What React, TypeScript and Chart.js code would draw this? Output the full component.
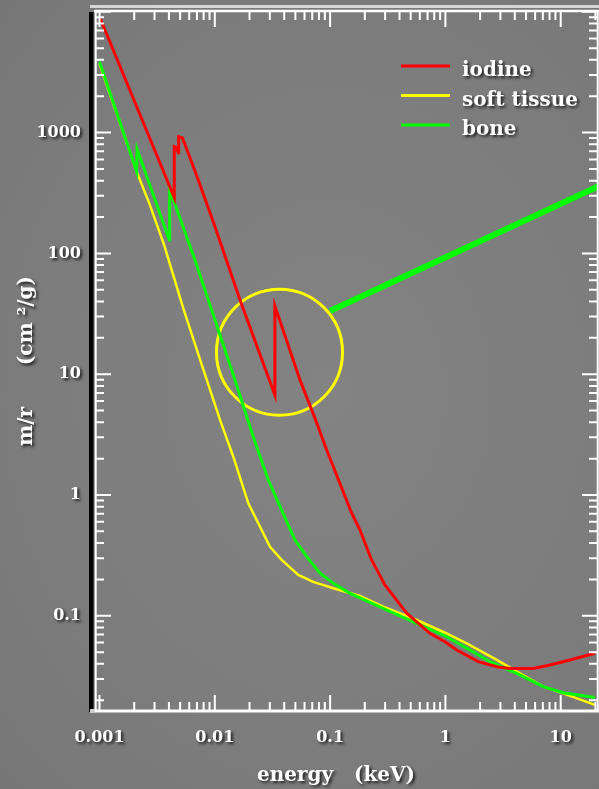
import React, { useEffect, useRef } from 'react';
import { Chart, registerables } from 'chart.js';

Chart.register(...registerables);

// ---- data (energy in the axis unit, mass attenuation coefficient) ----
const iodineEnergy = [0.001, 0.00445, 0.00445, 0.0047, 0.00483, 0.00486, 0.00523, 0.00589, 0.00719, 0.01004, 0.01655, 0.0332, 0.0332, 0.0548, 0.074, 0.0934, 0.154, 0.1816, 0.229, 0.299, 0.4613, 0.7345, 0.992, 1.253, 1.93, 2.79, 3.63, 5.79, 8.07, 12.04, 19.8];
const iodineMu = [9100, 290, 764, 745, 680, 925, 905, 674, 405, 166, 41.1, 6.73, 36.7, 8.95, 4.31, 2.36, 0.706, 0.513, 0.29, 0.18, 0.105, 0.0716, 0.061, 0.0521, 0.0417, 0.0379, 0.0367, 0.0367, 0.0391, 0.0431, 0.049];

const tissueEnergy = [0.001, 0.0021, 0.00274, 0.00365, 0.00533, 0.0077, 0.0111, 0.01447, 0.01953, 0.02384, 0.0301, 0.038, 0.053, 0.0715, 0.1066, 0.1816, 0.289, 0.564, 0.992, 1.53, 2.79, 4.15, 7.06, 10.5, 19.8];
const tissueMu = [3700, 475, 251, 116, 35, 12, 4.18, 2.075, 0.854, 0.583, 0.373, 0.29, 0.218, 0.191, 0.169, 0.146, 0.119, 0.0923, 0.0724, 0.0592, 0.0431, 0.0345, 0.0259, 0.0228, 0.0183];

const boneEnergy = [0.001, 0.0021, 0.00212, 0.00403, 0.00406, 0.00673, 0.01073, 0.01497, 0.02158, 0.0291, 0.038, 0.0496, 0.0627, 0.0817, 0.1066, 0.1488, 0.31, 0.564, 1.026, 1.633, 2.44, 4.15, 7.06, 10.5, 19.8];
const boneMu = [3864, 475, 727, 129, 339, 88.2, 23.2, 8.95, 3.02, 1.33, 0.751, 0.424, 0.309, 0.225, 0.186, 0.1535, 0.1117, 0.0867, 0.0671, 0.0521, 0.0417, 0.0334, 0.0259, 0.0231, 0.0211];

const seriesLabels = ['iodine', 'soft tissue', 'bone'];
const seriesColors = ['#ff0000', '#ffff00', '#00ff00'];

const xTickLabels = ['0.001', '0.01', '0.1', '1', '10'];
const yTickLabels = ['0.1', '1', '10', '100', '1000'];
const xRange = [0.000914, 21.06];
const yRange = [0.01629, 10153];

// highlight circle around the iodine K-edge and its pointer
const highlightEnergy = [0.0364];
const highlightMu = [15.2];
const pointerEnergy = [0.0998, 21.5];
const pointerMu = [33.4, 361];

const xTitle = 'energy   (keV)   ';
const yTitle = 'm/r      (cm \u00b2/g)';

const FONT = '"DejaVu Serif", "Liberation Serif", serif';

function setShadow(ctx: CanvasRenderingContext2D, on: boolean) {
  if (on) {
    ctx.shadowColor = 'rgba(0,0,0,0.75)';
    ctx.shadowBlur = 3;
    ctx.shadowOffsetX = 2;
    ctx.shadowOffsetY = 2;
  } else {
    ctx.shadowColor = 'rgba(0,0,0,0)';
    ctx.shadowBlur = 0;
    ctx.shadowOffsetX = 0;
    ctx.shadowOffsetY = 0;
  }
}

function logValues(min: number, max: number) {
  const out: { v: number; major: boolean }[] = [];
  const k0 = Math.floor(Math.log10(min));
  const k1 = Math.ceil(Math.log10(max));
  for (let k = k0; k <= k1; k++) {
    for (let d = 1; d <= 9; d++) {
      const v = d * Math.pow(10, k);
      if (v >= min && v <= max) out.push({ v, major: d === 1 });
    }
  }
  return out;
}

const framePlugin = {
  id: 'framePlugin',
  beforeDraw(chart: any) {
    setShadow(chart.ctx, true);
  },
  beforeDatasetsDraw(chart: any) {
    setShadow(chart.ctx, false);
  },
  afterDatasetsDraw(chart: any) {
    const ctx: CanvasRenderingContext2D = chart.ctx;
    const a = chart.chartArea;
    const xs = chart.scales.x;
    const ys = chart.scales.y;
    ctx.save();
    setShadow(ctx, false);
    // light bar above the frame
    ctx.fillStyle = '#d6d6d6';
    ctx.fillRect(a.left - 5, a.top - 6, a.right - a.left + 10, 3);
    // dark bar left of the frame
    ctx.fillStyle = '#000000';
    ctx.fillRect(a.left - 6, a.top + 1, 4.5, a.bottom - a.top);
    ctx.fillStyle = '#cfcfcf';
    ctx.fillRect(a.left - 5, a.bottom - 2, 5, 4);

    ctx.strokeStyle = '#ffffff';
    ctx.lineCap = 'butt';
    // frame
    ctx.lineWidth = 2.5;
    ctx.beginPath();
    ctx.moveTo(a.left - 1, a.top);
    ctx.lineTo(a.right + 2, a.top);
    ctx.stroke();
    ctx.lineWidth = 3;
    ctx.beginPath();
    ctx.moveTo(a.left, a.bottom);
    ctx.lineTo(a.right + 2, a.bottom);
    ctx.stroke();
    ctx.lineWidth = 2;
    ctx.beginPath();
    ctx.moveTo(a.left + 0.7, a.top);
    ctx.lineTo(a.left + 0.7, a.bottom);
    ctx.moveTo(a.right - 0.3, a.top);
    ctx.lineTo(a.right - 0.3, a.bottom);
    ctx.stroke();

    // ticks
    ctx.lineWidth = 2;
    ctx.beginPath();
    for (const t of logValues(xRange[0], xRange[1])) {
      const px = xs.getPixelForValue(t.v);
      const len = t.major ? 16 : 9;
      ctx.moveTo(px, a.bottom);
      ctx.lineTo(px, a.bottom - len);
      ctx.moveTo(px, a.top);
      ctx.lineTo(px, a.top + len);
    }
    for (const t of logValues(yRange[0], yRange[1])) {
      const py = ys.getPixelForValue(t.v);
      const len = t.major ? 16 : 9;
      ctx.moveTo(a.left, py);
      ctx.lineTo(a.left + len, py);
      ctx.moveTo(a.right, py);
      ctx.lineTo(a.right - len, py);
    }
    ctx.stroke();

    // legend
    const items = chart.data.datasets.slice(0, 3);
    items.forEach((ds: any, i: number) => {
      const ly = 66 + i * 29.5;
      setShadow(ctx, false);
      ctx.strokeStyle = ds.borderColor;
      ctx.lineWidth = 3;
      ctx.beginPath();
      ctx.moveTo(401, ly);
      ctx.lineTo(450, ly);
      ctx.stroke();
      setShadow(ctx, true);
      ctx.fillStyle = '#ffffff';
      ctx.font = `bold 20px ${FONT}`;
      ctx.textAlign = 'left';
      ctx.textBaseline = 'alphabetic';
      ctx.fillText(ds.label, 462, ly + 10);
    });
    ctx.restore();
  },
};

export default function App() {
  const ref = useRef<HTMLCanvasElement>(null);
  useEffect(() => {
    const canvas = ref.current;
    if (!canvas) return;
    const pts = (xs: number[], ys: number[]) => xs.map((x, i) => ({ x, y: ys[i] }));
    const tickFont = { family: FONT, size: 16, weight: 'bold' as const };
    const titleFont = { family: FONT, size: 20, weight: 'bold' as const };
    const chart = new Chart(canvas, {
      type: 'scatter',
      data: {
        datasets: [
          {
            label: seriesLabels[0],
            data: pts(iodineEnergy, iodineMu),
            borderColor: seriesColors[0],
            backgroundColor: seriesColors[0],
            borderWidth: 3,
            showLine: true,
            pointRadius: 0,
            borderJoinStyle: 'miter',
            order: 0,
          },
          {
            label: seriesLabels[1],
            data: pts(tissueEnergy, tissueMu),
            borderColor: seriesColors[1],
            backgroundColor: seriesColors[1],
            borderWidth: 2.5,
            showLine: true,
            pointRadius: 0,
            borderJoinStyle: 'miter',
            order: 2,
          },
          {
            label: seriesLabels[2],
            data: pts(boneEnergy, boneMu),
            borderColor: seriesColors[2],
            backgroundColor: seriesColors[2],
            borderWidth: 3,
            showLine: true,
            pointRadius: 0,
            borderJoinStyle: 'miter',
            order: 1,
          },
          {
            label: 'pointer',
            data: pts(pointerEnergy, pointerMu),
            borderColor: seriesColors[2],
            backgroundColor: seriesColors[2],
            borderWidth: 6,
            showLine: true,
            pointRadius: 0,
            order: 3,
          },
          {
            label: 'highlight',
            data: pts(highlightEnergy, highlightMu),
            borderColor: seriesColors[1],
            backgroundColor: 'rgba(0,0,0,0)',
            pointBorderColor: seriesColors[1],
            pointBackgroundColor: 'rgba(0,0,0,0)',
            pointBorderWidth: 3,
            pointRadius: 63,
            showLine: false,
            order: 4,
          },
        ] as any,
      },
      options: {
        responsive: false,
        animation: false,
        events: [],
        layout: { autoPadding: false, padding: { top: 11, right: 1, left: 0, bottom: 0 } },
        plugins: { legend: { display: false }, tooltip: { enabled: false } },
        scales: {
          x: {
            type: 'logarithmic',
            position: 'bottom',
            min: xRange[0],
            max: xRange[1],
            grid: { display: false, drawTicks: false },
            border: { display: false },
            afterBuildTicks: (s: any) => {
              s.ticks = xTickLabels.map((t) => ({ value: Number(t) }));
            },
            afterFit: (s: any) => {
              s.height = 78;
              s.paddingLeft = 0;
              s.paddingRight = 0;
              s.paddingTop = 0;
              s.paddingBottom = 0;
            },
            ticks: {
              color: '#ffffff',
              font: tickFont,
              padding: 17,
              autoSkip: false,
              maxRotation: 0,
              callback: (_v: any, i: number) => xTickLabels[i],
            },
            title: {
              display: true,
              text: xTitle,
              color: '#ffffff',
              font: titleFont,
              padding: { top: 0, bottom: 1 },
            },
          },
          y: {
            type: 'logarithmic',
            position: 'left',
            min: yRange[0],
            max: yRange[1],
            grid: { display: false, drawTicks: false },
            border: { display: false },
            afterBuildTicks: (s: any) => {
              s.ticks = yTickLabels.map((t) => ({ value: Number(t) }));
            },
            afterFit: (s: any) => {
              s.width = 95;
              s.paddingLeft = 0;
              s.paddingRight = 0;
              s.paddingTop = 0;
              s.paddingBottom = 0;
            },
            ticks: {
              color: '#ffffff',
              font: tickFont,
              padding: 14,
              autoSkip: false,
              callback: (_v: any, i: number) => yTickLabels[i],
            },
            title: {
              display: true,
              text: yTitle,
              color: '#ffffff',
              font: titleFont,
              padding: { top: 15, bottom: 0 },
            },
          },
        },
      } as any,
      plugins: [framePlugin],
    });
    return () => chart.destroy();
  }, []);

  return (
    <div
      style={{
        position: 'absolute',
        left: 0,
        top: 0,
        width: 599,
        height: 789,
        overflow: 'hidden',
        background: 'radial-gradient(ellipse at 55% 50%, #838383 0%, #7d7d7d 60%, #777777 100%)',
      }}
    >
      <canvas ref={ref} width={599} height={789} style={{ display: 'block' }} />
    </div>
  );
}
